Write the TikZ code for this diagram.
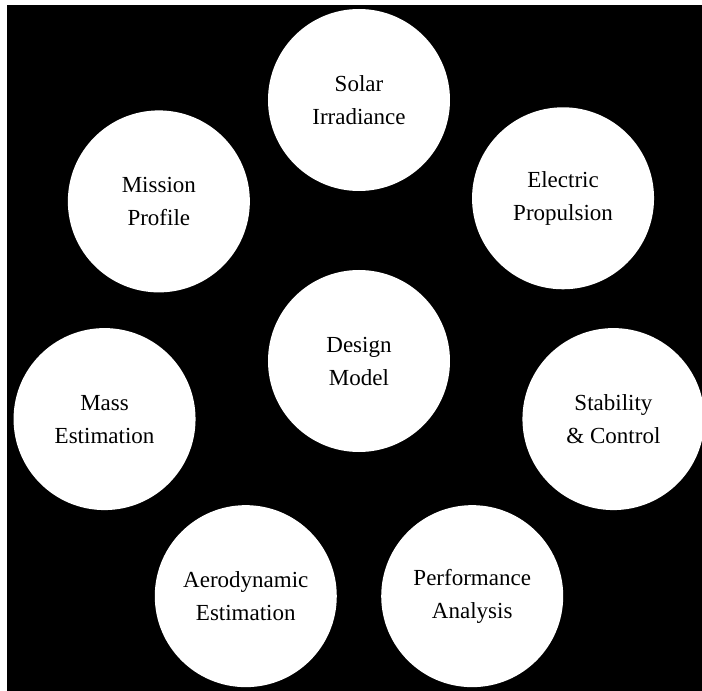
\documentclass[tikz,border=0pt]{standalone}
\usepackage{fontspec}
\setmainfont{Liberation Serif}
\usetikzlibrary{positioning}

\begin{document}
\begin{tikzpicture}[
    x = 1pt, y = 1pt,
    module/.style = {circle, fill = white, draw = none, inner sep = 0pt,
      minimum size = 182pt, align = center,
      font = \fontsize{23}{33}\selectfont} % white discs
    ]
    \useasboundingbox (-359,-330) rectangle (343,361);
    \fill[black] (-352,-330) rectangle (343,356); % background

    \node[module] (design) at (0,0) {Design\\Model};
    \node[module] (solar) at (90:261) {Solar\\Irradiance};
    \node[module] (propulsion) at (38.57:261) {Electric\\Propulsion};
    \node[module] (stability) at (-12.86:261) {Stability\\\& Control};
    \node[module] (performance) at (-64.29:261) {Performance\\Analysis};
    \node[module] (aero) at (-115.71:261) {Aerodynamic\\Estimation};
    \node[module] (mass) at (-167.14:261) {Mass\\Estimation};
    \node[module] (mission) at (141.43:256) {Mission\\Profile};
\end{tikzpicture}
\end{document}
